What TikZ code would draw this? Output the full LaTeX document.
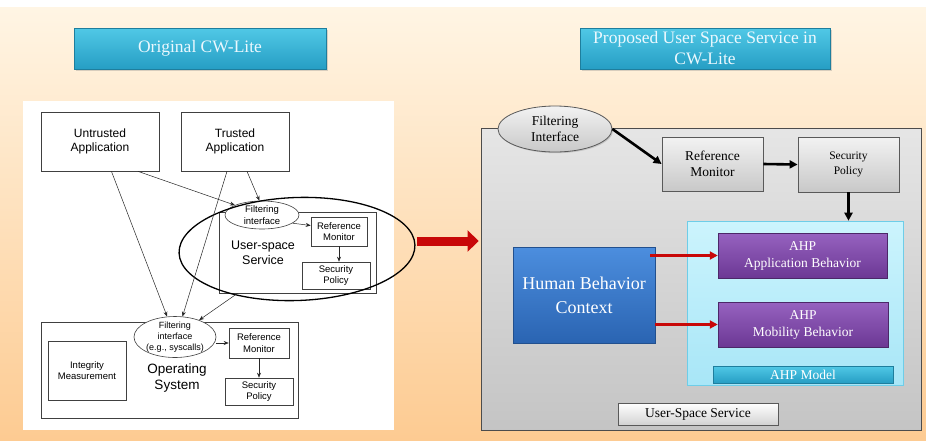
\documentclass[tikz,border=0pt]{standalone}
\usepackage{fontspec}
\setmainfont{Liberation Serif}
\newfontfamily\sansf{Liberation Sans}
\usetikzlibrary{shapes.geometric, shadows, arrows.meta}

\definecolor{bgtop}{RGB}{255,245,228}
\definecolor{bgbot}{RGB}{253,203,146}
\definecolor{tealtop}{RGB}{80,200,230}
\definecolor{tealbot}{RGB}{38,158,196}
\definecolor{cyantop}{RGB}{204,244,253}
\definecolor{cyanbot}{RGB}{168,230,247}
\definecolor{cyanedge}{RGB}{110,205,232}
\definecolor{purptop}{RGB}{150,98,192}
\definecolor{purpbot}{RGB}{108,56,148}
\definecolor{bluetop}{RGB}{76,142,222}
\definecolor{bluebot}{RGB}{42,100,178}
\definecolor{arrowred}{RGB}{200,8,8}

\begin{document}
\begin{tikzpicture}[
    x=1pt, y=-1pt,
    every node/.style={inner sep=0pt, align=center},
    headbox/.style={draw=tealbot!80!black, line width=0.4pt, top color=tealtop, bottom color=tealbot,
        text=white!92!cyan, font=\fontsize{17.5}{21}\selectfont,
        drop shadow={opacity=0.3, shadow xshift=1.5pt, shadow yshift=-1.5pt}},
    lbox/.style={draw=black!75, fill=white, line width=0.7pt, font=\sansf\fontsize{12}{14}\selectfont,
        drop shadow={opacity=0.35, shadow xshift=1.2pt, shadow yshift=-1.2pt}},
    lsmall/.style={draw=black!75, fill=white, line width=0.6pt, font=\sansf\fontsize{9.5}{11.5}\selectfont},
    lfilt/.style={ellipse, lsmall, inner sep=-3pt},
    larrow/.style={-{Stealth[length=5pt, width=4pt]}, line width=0.5pt, black!85},
    rbox/.style={draw=black!65, line width=0.8pt, top color=gray!10, bottom color=gray!43,
        font=\fontsize{13.5}{16}\selectfont,
        drop shadow={opacity=0.3, shadow xshift=1.2pt, shadow yshift=-1.2pt}},
    rfilt/.style={ellipse, rbox, inner sep=-2pt},
    ahpbox/.style={draw=purpbot!70!black, line width=0.5pt, top color=purptop, bottom color=purpbot,
        text=white, font=\fontsize{13.5}{17}\selectfont,
        drop shadow={opacity=0.3, shadow xshift=1.2pt, shadow yshift=-1.2pt}},
    blkarrow/.style={-{Triangle[length=8pt, width=8pt]}, line width=2.6pt, black},
    redarrow/.style={-{Triangle[length=8pt, width=8pt]}, line width=2.6pt, arrowred}
]

   % Background
   \useasboundingbox (0,0) rectangle (926,440);
   \fill[white] (0,0) rectangle (926,440);
   \shade[top color=bgtop, bottom color=bgbot] (0,7) rectangle (926,440);

   % Titles
   \node[headbox, minimum width=252pt, minimum height=41pt] (orig) at (200,48.5) {Original CW-Lite};
   \node[headbox, minimum width=250pt, minimum height=41pt] (prop) at (705,48.5)
       {Proposed User Space Service in\\CW-Lite};

   % Original CW-Lite
   \fill[white] (23,101) rectangle (394,430);
   \node[lbox, minimum width=118pt, minimum height=59pt] (untrusted) at (100,141.5) {Untrusted\\Application};
   \node[lbox, minimum width=108pt, minimum height=59pt] (trusted) at (235,141.5) {Trusted\\Application};
   \node[lbox, minimum width=157pt, minimum height=81pt] (usvc) at (297.5,252.5) {};
   \node[font=\sansf\fontsize{12.5}{15}\selectfont] (usvclbl) at (263,253) {User-space\\Service};
   \node[lfilt, minimum width=74pt, minimum height=28pt] (ufilt) at (262,215) {Filtering\\interface};
   \node[lsmall, minimum width=56pt, minimum height=29pt] (urm) at (339,231.5) {Reference\\Monitor};
   \node[lsmall, minimum width=68pt, minimum height=27pt] (usp) at (336,275.5) {Security\\Policy};

   \node[lbox, minimum width=257pt, minimum height=96pt] (os) at (169.5,370) {};
   \node[font=\sansf\fontsize{13.5}{16}\selectfont] (oslbl) at (177,378) {Operating\\System};
   \node[lsmall, minimum width=78pt, minimum height=59pt] (integ) at (87,370.5) {Integrity\\Measurement};
   \node[lfilt, minimum width=82pt, minimum height=41pt, font=\sansf\fontsize{9}{11}\selectfont] (ofilt) at (175,337)
       {Filtering\\interface\\(e.g., syscalls)};
   \node[lsmall, minimum width=60pt, minimum height=30pt] (orm) at (259,343) {Reference\\Monitor};
   \node[lsmall, minimum width=68pt, minimum height=27pt] (osp) at (259,391.5) {Security\\Policy};

   \node[ellipse, draw=black, line width=1.3pt, minimum width=236pt, minimum height=103pt, rotate=2] (ring) at (297,249) {};
   \coordinate (ringtip) at (417,241);

   % Original flows
   \draw[larrow] (untrusted) -- (ofilt);
   \draw[larrow] ([xshift=38pt]untrusted.south) -- (ufilt.160);
   \draw[larrow] ([xshift=-8pt]trusted.south) -- (ofilt.70);
   \draw[larrow] ([xshift=12pt]trusted.south) -- (ufilt.100);
   \draw[larrow] ([xshift=-60pt]usvc.south) -- (ofilt.35);
   \draw[larrow] (ufilt.-15) -- ([yshift=6pt]urm.west);
   \draw[larrow] (urm.south) -- (urm.south |- usp.north);
   \draw[larrow] (ofilt.east |- orm.west) -- (orm.west);
   \draw[larrow] (orm.south) -- (osp.north);

   % Proposed service
   \node[draw=black!70, line width=0.8pt, top color=gray!20, bottom color=gray!46,
       minimum width=440pt, minimum height=302pt] (panel) at (701,279) {};
   \draw[-{Triangle[length=11pt, width=21pt]}, line width=9pt, arrowred, shorten >=2pt]
       (ringtip) -- (ringtip -| panel.west);

   \node[rfilt, minimum width=114pt, minimum height=46pt] (rfilt) at (555,129) {Filtering\\Interface};
   \node[rbox, minimum width=101pt, minimum height=54pt] (rrm) at (712.5,164) {Reference\\Monitor};
   \node[rbox, minimum width=101pt, minimum height=55pt, font=\fontsize{11.5}{15}\selectfont] (rsp) at (848.5,164.5)
       {Security\\Policy};

   \node[draw=cyanedge, line width=0.6pt, top color=cyantop, bottom color=cyanbot,
       minimum width=216pt, minimum height=164pt] (ahp) at (795,303) {};
   \node[ahpbox, minimum width=169pt, minimum height=45pt] (appb) at (802.5,255.5) {AHP\\Application Behavior};
   \node[ahpbox, minimum width=170pt, minimum height=45pt] (mobb) at (803,324.5) {AHP\\Mobility Behavior};
   \node[draw=tealbot!80!black, line width=0.4pt, top color=tealtop, bottom color=tealbot, text=white,
       font=\fontsize{13.5}{16}\selectfont, minimum width=180pt, minimum height=17pt] (ahplbl) at (803,374.5) {AHP Model};

   \node[draw=bluebot!80!black, line width=0.5pt, top color=bluetop, bottom color=bluebot, text=white,
       font=\fontsize{18}{24}\selectfont, minimum width=142pt, minimum height=96pt,
       drop shadow={opacity=0.3, shadow xshift=1.2pt, shadow yshift=-1.2pt}] (hbc) at (584,295)
       {Human Behavior\\Context};

   \node[rbox, top color=white, bottom color=gray!35, minimum width=160pt, minimum height=22pt] (uslbl) at (698,414)
       {User-Space Service};

   % Proposed flows
   \draw[blkarrow] (rfilt.east) -- (rrm.west);
   \draw[blkarrow] (rrm.east) -- (rsp.west);
   \draw[blkarrow] (rsp.south) -- (rsp.south |- ahp.north);
   \draw[redarrow] ([xshift=-5pt]hbc.east |- appb.west) -- (appb.west);
   \draw[redarrow] (hbc.east |- mobb.west) -- (mobb.west);

\end{tikzpicture}
\end{document}
